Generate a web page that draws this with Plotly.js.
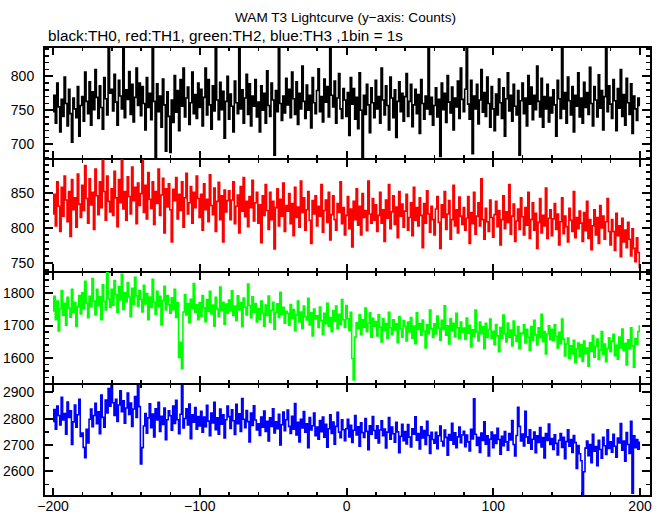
<!DOCTYPE html>
<html>
<head>
<meta charset="utf-8">
<script src="https://cdn.plot.ly/plotly-3.0.1.min.js"></script>
<style>html,body{margin:0;padding:0;background:#fff;}#chart{width:669px;height:515px;}</style>
</head>
<body>
<div id="chart"></div>
<script>
// time bins: start -200 s, 1 bin = 1 s
const binStart = -200;
const binSize = 1;

const TH0 = [
748,772,731,790,755,718,766,741,799,760,727,781,745,703,768,752,739,785,712,757,
770,734,806,763,745,792,728,777,751,810,769,738,786,754,722,798,767,743,848,775,
781,749,803,762,728,794,771,752,850,739,780,766,807,744,788,733,769,812,757,790,
742,785,760,721,798,754,775,736,843,763,680,789,748,771,725,796,758,690,777,741,
688,765,732,801,747,779,720,795,756,812,740,768,784,729,761,806,745,773,738,790,
754,781,727,769,812,743,795,758,722,786,749,852,765,736,791,751,778,709,763,800,
737,774,756,718,793,761,745,846,752,780,731,768,803,744,789,727,771,756,795,740,
762,718,786,750,775,731,808,757,741,790,765,684,779,748,849,760,735,771,746,797,
758,781,739,806,767,744,792,729,775,752,815,763,738,787,750,772,724,798,761,745,
779,811,748,770,733,796,762,785,740,848,772,755,793,731,768,804,752,738,782,765,
741,776,713,798,759,782,737,769,723,805,750,675,772,744,788,758,717,783,761,739,
794,752,770,731,812,765,743,786,757,721,799,768,739,780,710,763,792,748,775,734,
770,804,741,763,788,726,758,781,745,773,716,795,760,737,771,752,845,744,769,728,
757,783,740,766,682,790,751,775,732,801,762,746,784,721,768,755,793,738,812,766,
748,781,844,759,737,794,686,771,752,788,730,765,810,747,776,741,799,760,725,785,
752,720,774,743,796,761,738,783,712,767,805,749,772,734,788,756,743,779,684,764,
790,745,768,727,801,759,784,736,772,751,815,763,740,797,725,770,752,788,733,769,
746,780,758,712,794,767,738,850,752,776,731,799,764,743,785,718,772,756,805,740,
768,731,791,754,776,744,813,760,727,785,765,740,802,753,779,721,770,855,748,786,
759,738,795,764,720,782,753,810,741,773,728,797,761,744,789,716,771,752,735,768,
757];

const TH1 = [
820,848,803,866,831,795,858,817,874,840,809,852,788,869,826,843,801,877,834,815,
861,825,889,842,807,870,833,851,798,884,846,819,866,829,897,852,811,874,838,823,
856,818,881,843,802,869,836,898,827,852,811,873,845,820,887,839,858,806,864,832,
849,897,822,861,813,879,841,828,866,805,852,835,884,818,847,871,793,856,830,863,
826,780,855,839,872,813,848,825,866,801,843,878,820,836,859,807,851,829,874,842,
815,848,797,863,826,841,809,876,832,819,857,795,838,865,812,846,780,854,823,839,
853,812,840,866,806,831,847,793,859,824,872,816,838,802,845,829,868,810,836,851,
807,833,779,846,818,862,825,798,851,812,838,770,829,856,803,841,817,864,795,832,
824,849,806,835,789,858,815,830,801,867,822,843,797,826,852,811,778,839,820,846,
803,831,817,862,794,825,840,808,851,783,819,846,812,797,835,822,866,806,829,790,
818,845,799,827,773,838,812,856,804,831,790,849,815,825,796,867,820,807,842,811,
833,795,818,851,807,826,781,840,814,862,799,823,846,805,830,786,852,817,834,801,
824,848,797,815,836,789,858,811,829,803,843,818,772,835,807,853,820,794,831,812,
790,827,845,808,771,833,815,852,798,820,839,784,812,861,803,826,793,844,817,805,
829,797,814,845,778,822,806,851,791,817,836,803,870,812,784,828,809,795,840,815,
787,819,838,802,825,776,812,846,799,823,808,862,791,817,834,781,810,827,798,843,
816,790,829,804,851,785,812,836,797,821,771,808,842,793,818,803,857,785,814,826,
789,813,835,798,820,776,809,843,792,817,802,780,828,811,795,852,786,815,799,824,
807,781,822,796,838,785,812,769,803,826,790,815,778,832,800,817,784,809,842,795,
776,812,795,768,821,789,803,759,814,780,797,772,808,784,760,799,771,752,786,765,
744];

const TH2 = [
1745,1790,1718,1776,1683,1751,1808,1732,1769,1701,1787,1754,1726,1812,1740,1771,1697,1758,1793,1736,
1801,1752,1837,1769,1724,1790,1758,1845,1776,1733,1812,1761,1789,1718,1826,1775,1748,1866,1782,1756,
1812,1763,1839,1795,1741,1820,1779,1858,1750,1801,1774,1833,1788,1727,1815,1766,1849,1792,1760,1808,
1781,1742,1824,1767,1799,1718,1788,1756,1843,1772,1735,1806,1759,1790,1702,1777,1821,1748,1793,1764,
1738,1786,1749,1812,1725,1770,1601,1648,1567,1742,1796,1733,1768,1709,1781,1752,1830,1741,1764,1718,
1771,1729,1793,1755,1712,1780,1744,1806,1736,1763,1698,1787,1751,1727,1819,1746,1772,1704,1766,1738,
1779,1745,1807,1731,1760,1716,1792,1748,1771,1696,1785,1757,1733,1828,1762,1724,1789,1741,1768,1711,
1752,1719,1776,1738,1698,1763,1731,1791,1710,1747,1772,1689,1740,1767,1725,1803,1734,1756,1707,1744,
1738,1701,1765,1722,1749,1684,1733,1776,1711,1742,1691,1760,1727,1717,1784,1702,1739,1668,1751,1720,
1730,1694,1757,1715,1672,1738,1706,1769,1698,1725,1681,1746,1713,1760,1690,1735,1703,1780,1718,1695,
1762,1721,1685,1741,1598,1532,1664,1709,1690,1733,1672,1718,1695,1754,1681,1707,1739,1664,1722,1698,
1712,1668,1733,1695,1649,1721,1684,1706,1661,1741,1693,1672,1718,1686,1705,1647,1728,1690,1664,1715,
1697,1652,1711,1680,1725,1661,1698,1644,1739,1688,1706,1670,1717,1683,1631,1702,1675,1748,1690,1663,
1705,1674,1729,1692,1655,1716,1688,1761,1670,1699,1643,1721,1684,1707,1665,1738,1693,1660,1711,1679,
1692,1658,1723,1676,1701,1634,1687,1667,1748,1680,1652,1711,1675,1696,1628,1707,1663,1688,1720,1659,
1682,1641,1703,1668,1619,1694,1660,1732,1675,1649,1708,1664,1686,1637,1714,1670,1651,1697,1628,1677,
1675,1702,1646,1688,1664,1623,1697,1655,1716,1671,1640,1693,1662,1735,1650,1681,1612,1674,1699,1656,
1688,1653,1702,1667,1631,1679,1644,1720,1658,1606,1643,1661,1598,1637,1612,1654,1585,1628,1646,1604,
1641,1589,1652,1613,1630,1574,1647,1620,1669,1602,1636,1658,1595,1624,1681,1611,1643,1588,1629,1662,
1619,1651,1673,1607,1640,1596,1664,1631,1689,1622,1645,1578,1656,1628,1693,1637,1571,1660,1642,1681,
1698];

const TH3 = [
2790,2835,2760,2848,2812,2776,2881,2795,2820,2741,2863,2805,2830,2702,2788,2852,2768,2815,2874,2733,
2745,2691,2652,2760,2708,2798,2837,2770,2812,2859,2781,2826,2743,2890,2805,2768,2871,2822,2915,2848,
2933,2861,2812,2874,2790,2852,2906,2827,2868,2783,2841,2898,2816,2860,2771,2837,2884,2805,2933,2846,
2628,2690,2772,2820,2745,2803,2857,2766,2818,2731,2838,2795,2862,2752,2809,2778,2841,2720,2796,2830,
2811,2756,2848,2782,2870,2796,2743,2817,2933,2765,2801,2838,2776,2856,2724,2815,2787,2842,2760,2808,
2772,2828,2749,2806,2770,2851,2791,2735,2822,2784,2862,2758,2803,2741,2837,2779,2815,2727,2796,2848,
2808,2763,2834,2792,2740,2855,2781,2819,2752,2877,2798,2766,2831,2789,2712,2822,2774,2849,2795,2757,
2781,2736,2806,2768,2829,2752,2790,2715,2803,2771,2838,2746,2788,2762,2817,2700,2777,2825,2754,2796,
2833,2771,2744,2809,2760,2858,2738,2786,2712,2798,2765,2827,2749,2781,2690,2804,2757,2773,2822,2735,
2768,2722,2793,2751,2806,2730,2779,2692,2762,2815,2744,2787,2703,2771,2824,2749,2728,2796,2758,2716,
2762,2798,2731,2775,2710,2756,2812,2738,2769,2695,2784,2747,2729,2801,2752,2682,2773,2741,2808,2755,
2726,2773,2708,2757,2792,2735,2761,2689,2749,2804,2722,2768,2743,2711,2786,2750,2671,2733,2779,2716,
2751,2704,2778,2730,2693,2762,2741,2807,2718,2744,2685,2769,2727,2755,2702,2790,2736,2668,2748,2721,
2707,2748,2686,2735,2772,2714,2696,2757,2729,2661,2740,2718,2783,2703,2746,2690,2731,2768,2709,2738,
2752,2694,2738,2712,2677,2760,2723,2876,2741,2698,2729,2672,2745,2717,2788,2703,2735,2658,2722,2749,
2690,2738,2706,2764,2721,2665,2733,2697,2751,2712,2680,2744,2719,2793,2702,2658,2736,2843,2771,2715,
2742,2696,2828,2731,2707,2758,2684,2722,2749,2671,2735,2710,2766,2693,2728,2651,2744,2717,2780,2702,
2725,2683,2739,2706,2662,2718,2744,2691,2729,2648,2713,2758,2695,2721,2672,2736,2709,2611,2698,2667,
2640,2505,2598,2688,2715,2659,2702,2633,2741,2676,2694,2621,2718,2683,2650,2729,2697,2664,2758,2687,
2712,2673,2741,2695,2654,2726,2708,2782,2680,2715,2638,2747,2702,2668,2790,2517,2735,2690,2721,2684,
2710];

const seriesNames = ["TH0", "TH1", "TH2", "TH3"];
const seriesData = [TH0, TH1, TH2, TH3];
const seriesColors = ["#000000", "#ff0000", "#00ff00", "#0000ff"];
const yRanges = [[678, 843], [738, 898], [1520, 1867], [2506, 2933]];
const yDticks = [50, 50, 100, 100];
const yMinor = [10, 10, 20, 50];
const xRange = [-205.5, 206.8];
const titleText = "WAM T3 Lightcurve (y\u2212axis: Counts)";
const subtitleText = "black:TH0, red:TH1, green:TH2, blue:TH3 ,1bin = 1s";

const FONT = "Liberation Sans, Arial, Helvetica, sans-serif";
const domains = [[0.75, 1], [0.5, 0.75], [0.25, 0.5], [0, 0.25]];
const xAxisFor = ["x2", "x3", "x4", "x"];

const traces = seriesData.map((vals, k) => ({
  type: "scatter",
  mode: "lines",
  name: seriesNames[k],
  x: vals.map((_, i) => binStart + i * binSize),
  y: vals,
  xaxis: xAxisFor[k],
  yaxis: "y" + (k === 0 ? "" : k + 1),
  line: { color: seriesColors[k], width: 1.6, shape: "hvh" },
  hoverinfo: "skip"
}));

const axisCommon = {
  showline: true, linecolor: "#000", linewidth: 2,
  mirror: "ticks", ticks: "inside", ticklen: 8, tickwidth: 2, tickcolor: "#000",
  showgrid: false, zeroline: false,
  tickfont: { family: FONT, size: 14, color: "#000" }
};

const layout = {
  width: 669, height: 515,
  margin: { l: 45, r: 19, t: 47, b: 19, pad: 0 },
  paper_bgcolor: "#fff", plot_bgcolor: "#fff",
  showlegend: false,
  font: { family: FONT, color: "#000" },
  annotations: [
    { text: titleText, xref: "paper", yref: "paper", x: 0.497, y: 1.0668,
      xanchor: "center", yanchor: "middle", showarrow: false,
      font: { family: FONT, size: 13.6, color: "#000" } },
    { text: subtitleText, xref: "paper", yref: "paper", x: 0.002, y: 1.0245,
      xanchor: "left", yanchor: "middle", showarrow: false,
      font: { family: FONT, size: 15.3, color: "#000" } }
  ],
  shapes: [
    { type: "line", xref: "paper", yref: "paper", x0: 0, x1: 1, y0: 1, y1: 1,
      line: { color: "#000", width: 2 } },
    { type: "line", xref: "paper", yref: "paper", x0: 0, x1: 1, y0: 0, y1: 0,
      line: { color: "#000", width: 2 } }
  ]
};

const xAxisBase = Object.assign({}, axisCommon, {
  range: xRange, tickmode: "linear", tick0: -200, dtick: 100, linewidth: 1,
  minor: { dtick: 20, ticklen: 4, tickwidth: 1.5, tickcolor: "#000", ticks: "inside", showgrid: false }
});
layout.xaxis = Object.assign({}, xAxisBase, { anchor: "y4", showticklabels: true,
  ticklabelstandoff: -3, tickfont: { family: FONT, size: 14, color: "#000" } });
layout.xaxis2 = Object.assign({}, xAxisBase, { anchor: "y", matches: "x", showticklabels: false });
layout.xaxis3 = Object.assign({}, xAxisBase, { anchor: "y2", matches: "x", showticklabels: false });
layout.xaxis4 = Object.assign({}, xAxisBase, { anchor: "y3", matches: "x", showticklabels: false });

for (let k = 0; k < 4; k++) {
  const key = "yaxis" + (k === 0 ? "" : k + 1);
  layout[key] = Object.assign({}, axisCommon, {
    domain: domains[k], range: yRanges[k], anchor: xAxisFor[k],
    tickmode: "linear", dtick: yDticks[k], tick0: 0,
    ticklabelstandoff: 6,
    minor: { dtick: yMinor[k], ticklen: 4, tickwidth: 1.5, tickcolor: "#000", ticks: "inside", showgrid: false }
  });
}

Plotly.newPlot("chart", traces, layout, { staticPlot: true, displayModeBar: false });
</script>
</body>
</html>
